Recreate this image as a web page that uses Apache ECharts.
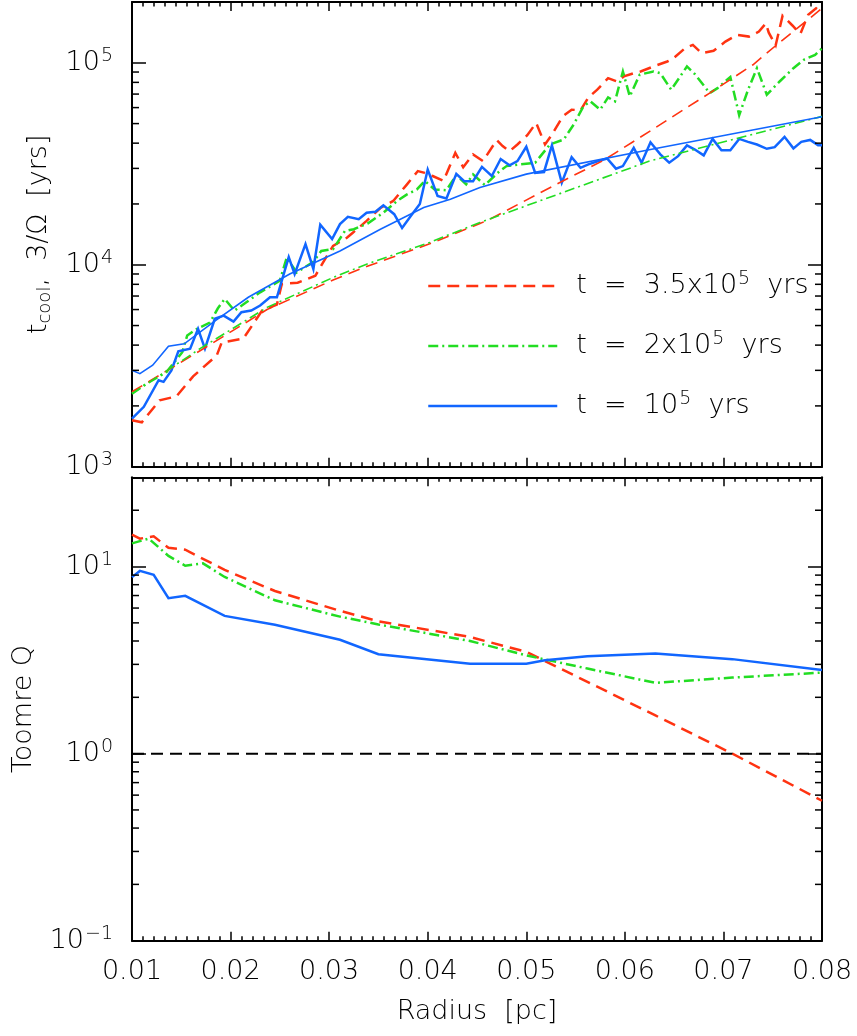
<!DOCTYPE html>
<html><head><meta charset="utf-8">
<script src="https://cdn.jsdelivr.net/npm/echarts@6/dist/echarts.min.js"></script>
<style>html,body{margin:0;padding:0;background:#fff}#c{width:857px;height:1036px}</style>
</head><body><div id="c"></div>
<script>
// ---------- DATA ----------
const nameR = 't = 3.5x10^5 yrs';
const nameG = 't = 2x10^5 yrs';
const nameB = 't = 10^5 yrs';

// top panel: t_cool (noisy) and 3/Omega (smooth), radius in pc, time in yrs
const blueNoisyR = [0.0100,0.0112,0.0127,0.0132,0.0140,0.0147,0.0159,0.0167,0.0174,0.0184,0.0193,0.0203,0.0211,0.0221,0.0230,0.0240,0.0247,0.0259,0.0265,0.0276,0.0284,0.0291,0.0303,0.0311,0.0319,0.0330,0.0338,0.0347,0.0355,0.0366,0.0374,0.0383,0.0392,0.0400,0.0410,0.0419,0.0429,0.0437,0.0446,0.0455,0.0465,0.0474,0.0483,0.0491,0.0500,0.0509,0.0518,0.0526,0.0536,0.0546,0.0555,0.0563,0.0573,0.0582,0.0591,0.0598,0.0609,0.0617,0.0626,0.0636,0.0645,0.0654,0.0663,0.0671,0.0680,0.0689,0.0698,0.0707,0.0716,0.0725,0.0734,0.0744,0.0752,0.0762,0.0771,0.0779,0.0788,0.0796,0.0800];
const blueNoisyT = [1730,1980,2680,2630,3000,3730,3840,4820,3840,5400,5600,5230,5820,5930,6280,6900,6900,10900,8990,12650,9530,15800,13400,15900,17260,16800,18100,18300,19700,17800,15200,17500,20000,29600,21900,21300,28200,25900,25900,30500,27500,33400,31100,32600,38400,28500,28800,39000,25500,34100,30200,31400,32600,33600,29900,30800,37900,32000,40400,35200,32000,34500,39000,37200,34800,42000,36900,36900,42000,40600,39400,37500,38200,43000,37700,40600,41500,39100,39100];

const redNoisyR = [0.0100,0.0110,0.0128,0.0145,0.0162,0.0186,0.0191,0.0213,0.0232,0.0247,0.0252,0.0268,0.0286,0.0296,0.0304,0.0318,0.0324,0.0338,0.0352,0.0365,0.0379,0.0390,0.0397,0.0405,0.0416,0.0428,0.0436,0.0446,0.0456,0.0470,0.0476,0.0483,0.0491,0.0501,0.0510,0.0519,0.0526,0.0537,0.0546,0.0555,0.0563,0.0572,0.0583,0.0592,0.0599,0.0609,0.0616,0.0629,0.0643,0.0649,0.0661,0.0669,0.0678,0.0690,0.0702,0.0714,0.0726,0.0736,0.0743,0.0746,0.0753,0.0760,0.0770,0.0778,0.0786,0.0794,0.0800];
const redNoisyT = [1700,1660,2130,2230,2800,3560,4120,4310,5930,6350,8030,8150,8820,10700,12400,13600,14400,16500,19100,20700,25000,29100,28500,27500,26000,35800,30400,35200,32600,41400,38700,36500,39400,43800,50400,39400,44100,54300,58600,58200,67400,73600,83900,80800,85600,88800,90600,95900,101500,105000,118000,122700,111500,114600,127400,137400,134800,142700,156800,141000,122000,171000,153000,139000,173000,186000,177000];

const greenNoisyR = [0.0100,0.0115,0.0135,0.0151,0.0156,0.0166,0.0179,0.0187,0.0194,0.0204,0.0216,0.0230,0.0250,0.0257,0.0267,0.0284,0.0292,0.0304,0.0316,0.0325,0.0339,0.0355,0.0369,0.0379,0.0389,0.0397,0.0407,0.0419,0.0429,0.0439,0.0446,0.0458,0.0473,0.0480,0.0493,0.0509,0.0524,0.0538,0.0548,0.0558,0.0565,0.0575,0.0583,0.0590,0.0598,0.0605,0.0615,0.0629,0.0636,0.0647,0.0663,0.0671,0.0686,0.0694,0.0707,0.0716,0.0725,0.0734,0.0744,0.0757,0.0771,0.0782,0.0793,0.0800];
const greenNoisyT = [2300,2580,2940,3690,4460,4820,5170,6070,6770,5930,6520,7300,8340,10870,9160,10350,11700,11950,14700,15000,16000,18100,20700,22300,23600,26000,23600,23400,27800,25000,28000,24800,29100,30800,31400,32000,39400,41700,49400,60900,64400,58600,67400,64400,90600,68200,87300,90600,88800,73600,95900,88000,70800,74900,85100,55000,73600,94100,69500,80800,94000,103800,109500,118000];

const redSmoothR = [0.0100,0.0169,0.0237,0.0304,0.0338,0.0402,0.0453,0.0463,0.0537,0.0578,0.0628,0.0686,0.0730,0.0754,0.0800];
const redSmoothT = [2350,3750,6000,8400,9800,12700,16000,16800,26000,32800,46700,70800,97800,122700,186000];
const greenSmoothR = [0.0100,0.0169,0.0237,0.0304,0.0338,0.0402,0.0453,0.0534,0.0625,0.0800];
const greenSmoothT = [2300,3840,6150,8650,10070,12900,16200,22500,32600,54300];
const blueSmoothR = [0.0100,0.0108,0.0121,0.0137,0.0153,0.0185,0.0218,0.0260,0.0311,0.0352,0.0396,0.0423,0.0453,0.0500,0.0626,0.0800];
const blueSmoothT = [3000,2890,3180,3950,4060,5300,6900,9000,11700,15000,19200,21100,24100,28100,37200,54000];

// bottom panel: Toomre Q
const blueQR = [0.0100,0.0108,0.0122,0.0137,0.0154,0.0194,0.0245,0.0311,0.0350,0.0443,0.0500,0.0519,0.0562,0.0631,0.0709,0.0800];
const blueQ  = [8.78,9.48,9.03,6.78,6.97,5.45,4.88,4.06,3.40,3.02,3.02,3.16,3.32,3.43,3.20,2.80];
const redQR  = [0.0100,0.0108,0.0122,0.0137,0.0154,0.0194,0.0245,0.0311,0.0350,0.0443,0.0500,0.0562,0.0631,0.0709,0.0800];
const redQ   = [14.8,14.1,14.5,12.6,12.3,9.6,7.4,5.8,5.1,4.2,3.5,2.42,1.6,1.0,0.56];
const greenQR = [0.0100,0.0117,0.0137,0.0154,0.0172,0.0194,0.0245,0.0311,0.0350,0.0443,0.0500,0.0562,0.0631,0.0709,0.0800];
const greenQ  = [13.3,14.1,11.4,10.1,10.4,8.8,6.6,5.4,4.9,4.0,3.35,2.85,2.39,2.55,2.71];
const unityR = [0.01,0.08];
const unityQ = [1,1];

// axes / ticks
const xMin = 0.01, xMax = 0.08, xStep = 0.01;
const topMin = 1000, topMax = 200000;
const botMin = 0.1, botMax = 30;
const topMinorTicks = [2e3,3e3,4e3,5e3,6e3,7e3,8e3,9e3,2e4,3e4,4e4,5e4,6e4,7e4,8e4,9e4];
const botMinorTicks = [0.2,0.3,0.4,0.5,0.6,0.7,0.8,0.9,2,3,4,5,6,7,8,9,20];

// ---------- STYLE ----------
const FONT = 'DejaVu Sans';
const FW = 200;
const RED = '#ff3311', GREEN = '#22dd22', BLUE = '#1166ff';
const DASH = [12, 7];
const DASHDOT = [10, 4, 2, 4];
const FS = 27;

const rich = {
  b: {fontSize: FS, fontFamily: FONT, fontWeight: FW, color: '#000', lineHeight: 32},
  s: {fontSize: 19, fontFamily: FONT, fontWeight: FW, color: '#000', verticalAlign: 'top', lineHeight: 18, padding: [0, 0, 0, 1]},
  sub: {fontSize: 18, fontFamily: FONT, fontWeight: FW, color: '#000', verticalAlign: 'bottom', lineHeight: 18}
};

function powLabel(v) {
  const e = Math.round(Math.log10(v));
  if (Math.abs(Math.pow(10, e) - v) / v > 1e-6) return '';
  return '{b|10}{s|' + (e < 0 ? '\u2212' + (-e) : e) + '}';
}

const zip = (a, b) => a.map((v, i) => [v, b[i]]);

function xAxisCfg(gi, pos, labels) {
  const c = {
    gridIndex: gi, type: 'value', min: xMin, max: xMax, interval: xStep, position: pos,
    axisLine: {show: true, onZero: false, lineStyle: {color: '#000', width: 2}},
    axisTick: {show: true, inside: true, length: 9, lineStyle: {color: '#000', width: 1.5}},
    minorTick: {show: true, splitNumber: 9, length: 4.5, lineStyle: {color: '#000', width: 1.5}},
    splitLine: {show: false},
    axisLabel: {show: labels, formatter: v => v.toFixed(2), fontSize: FS, fontFamily: FONT, fontWeight: FW, color: '#000', margin: 18}
  };
  if (labels) {
    c.name = 'Radius  [pc]';
    c.nameLocation = 'middle';
    c.nameGap = 58;
    c.nameTextStyle = {fontSize: FS, fontFamily: FONT, fontWeight: FW, color: '#000'};
  }
  return c;
}
function yAxisCfg(gi, pos, mn, mx, labels, name, gap) {
  const c = {
    gridIndex: gi, type: 'log', logBase: 10, min: mn, max: mx, position: pos,
    axisLine: {show: true, onZero: false, lineStyle: {color: '#000', width: 2}},
    axisTick: {show: true, inside: true, length: 14, lineStyle: {color: '#000', width: 1.5}},
    minorTick: {show: false}, splitLine: {show: false},
    axisLabel: {show: labels, formatter: powLabel, rich: rich, margin: 19}
  };
  if (name) {
    c.name = name; c.nameLocation = 'middle'; c.nameGap = gap; c.nameRotate = 90;
    c.nameTextStyle = {rich: rich, fontSize: FS, fontFamily: FONT, fontWeight: FW, color: '#000'};
  }
  return c;
}
function minorSeries(xi, yi, vals) {
  return {
    type: 'custom', xAxisIndex: xi, yAxisIndex: yi, silent: true, clip: false, z: 5,
    data: vals.map(v => [xMin, v]), encode: {x: 0, y: 1},
    renderItem(params, api) {
      const cs = params.coordSys;
      const y = api.coord([xMin, api.value(1)])[1];
      const st = {stroke: '#000', lineWidth: 1.5};
      return {type: 'group', children: [
        {type: 'line', shape: {x1: cs.x, y1: y, x2: cs.x + 7, y2: y}, style: st},
        {type: 'line', shape: {x1: cs.x + cs.width, y1: y, x2: cs.x + cs.width - 7, y2: y}, style: st}
      ]};
    }
  };
}
function line(name, xi, yi, data, color, type, width) {
  return {
    name: name, type: 'line', xAxisIndex: xi, yAxisIndex: yi, data: data,
    symbol: 'none', showSymbol: false, silent: true, animation: false, clip: true,
    lineStyle: {color: color, width: width, type: type, cap: 'butt', join: 'miter'},
    itemStyle: {color: color}
  };
}

const legendText = {};
legendText[nameR] = '{b|t  =  3.5x10}{s|5}{b|  yrs}';
legendText[nameG] = '{b|t  =  2x10}{s|5}{b|  yrs}';
legendText[nameB] = '{b|t  =  10}{s|5}{b|  yrs}';

const option = {
  backgroundColor: '#fff',
  animation: false,
  grid: [
    {left: 132, top: 2, width: 690, height: 464.7},
    {left: 132, top: 477.3, width: 690, height: 463.4}
  ],
  xAxis: [xAxisCfg(0, 'bottom', false), xAxisCfg(0, 'top', false), xAxisCfg(1, 'bottom', true), xAxisCfg(1, 'top', false)],
  yAxis: [
    yAxisCfg(0, 'left', topMin, topMax, true, '{b|t}{sub|cool}{b|,  3/\u03A9  [yrs]}', 72),
    yAxisCfg(0, 'right', topMin, topMax, false),
    yAxisCfg(1, 'left', botMin, botMax, true, '{b|Toomre Q}', 92),
    yAxisCfg(1, 'right', botMin, botMax, false)
  ],
  legend: {
    data: [nameR, nameG, nameB], orient: 'vertical', left: 427, top: 270, padding: 0,
    itemWidth: 129, itemHeight: 30, itemGap: 30.5, selectedMode: false,
    itemStyle: {color: 'rgba(0,0,0,0)', borderWidth: 0, opacity: 0},
    lineStyle: {width: 2.5},
    formatter: n => legendText[n],
    textStyle: {rich: rich, fontSize: FS, fontFamily: FONT, color: '#000', padding: [0, 0, 0, 14]}
  },
  series: [
    line(nameR, 0, 0, zip(redNoisyR, redNoisyT), RED, DASH, 2.5),
    line(nameG, 0, 0, zip(greenNoisyR, greenNoisyT), GREEN, DASHDOT, 2.5),
    line(nameB, 0, 0, zip(blueNoisyR, blueNoisyT), BLUE, 'solid', 2.5),
    line(nameR, 0, 0, zip(redSmoothR, redSmoothT), RED, DASH, 1.6),
    line(nameG, 0, 0, zip(greenSmoothR, greenSmoothT), GREEN, DASHDOT, 1.6),
    line(nameB, 0, 0, zip(blueSmoothR, blueSmoothT), BLUE, 'solid', 1.6),
    line('Q = 1', 2, 2, zip(unityR, unityQ), '#000', DASH, 2),
    line(nameR, 2, 2, zip(redQR, redQ), RED, DASH, 2.5),
    line(nameG, 2, 2, zip(greenQR, greenQ), GREEN, DASHDOT, 2.5),
    line(nameB, 2, 2, zip(blueQR, blueQ), BLUE, 'solid', 2.5),
    minorSeries(0, 0, topMinorTicks),
    minorSeries(2, 2, botMinorTicks)
  ]
};

const chart = echarts.init(document.getElementById('c'), null, {renderer: 'canvas'});
chart.setOption(option);
</script>
</body></html>
